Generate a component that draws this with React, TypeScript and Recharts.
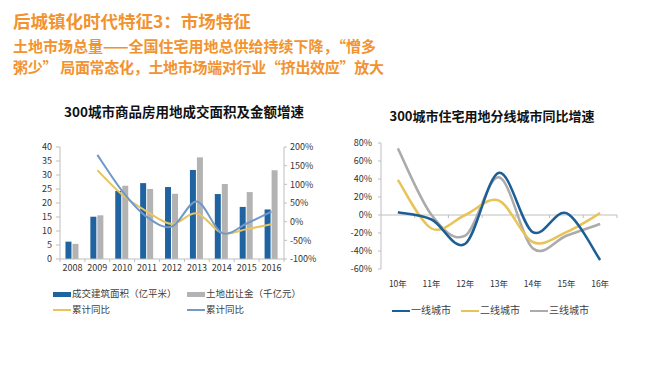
import {
  ComposedChart,
  Bar,
  Line,
  XAxis,
  YAxis,
  ReferenceLine,
} from "recharts";

// left chart: 300 cities land deals
const years = ["2008", "2009", "2010", "2011", "2012", "2013", "2014", "2015", "2016"];
const dealArea = [6.2, 15.1, 24.3, 27.1, 25.7, 31.8, 23.2, 18.6, 17.7];
const landPrice = [5.4, 15.6, 26.2, 25.0, 23.3, 36.3, 26.8, 23.9, 31.7];
const areaYoY = [null, 138, 72, 27, -6, 22, -30, -20, -7];
const priceYoY = [null, 179, 82, 12, -13, 54, -30, -5, 27];
const leftTicks = [0, 5, 10, 15, 20, 25, 30, 35, 40];
const rightTicks = [-100, -50, 0, 50, 100, 150, 200];

// right chart: yoy by city tier
const cityYears = ["10年", "11年", "12年", "13年", "14年", "15年", "16年"];
const tier1 = [3, -5, -32, 47, -19, 2, -50];
const tier2 = [39, -15, 0, 16, -30, -19, 2];
const tier3 = [74, 0, -23, 42, -37, -23, -10];
const tierTicks = [-60, -40, -20, 0, 20, 40, 60, 80];

const FONT = "'Noto Sans CJK SC', 'Noto Sans', sans-serif";
const ORANGE = "#F29330";
const AXIS = "#BFBFBF";

const dealData = years.map((y, i) => ({
  year: y,
  area: dealArea[i],
  price: landPrice[i],
  areaYoY: areaYoY[i],
  priceYoY: priceYoY[i],
}));

const tierData = cityYears.map((y, i) => ({
  year: y,
  t1: tier1[i],
  t2: tier2[i],
  t3: tier3[i],
}));

// Excel style smoothed line (catmull-rom)
function smooth(context: any) {
  let pts: number[][] = [];
  return {
    areaStart() {},
    areaEnd() {},
    lineStart() {
      pts = [];
    },
    point(x: number, y: number) {
      pts.push([+x, +y]);
    },
    lineEnd() {
      if (!pts.length) return;
      context.moveTo(pts[0][0], pts[0][1]);
      for (let i = 0; i < pts.length - 1; i++) {
        const p0 = pts[i - 1] || pts[i];
        const p1 = pts[i];
        const p2 = pts[i + 1];
        const p3 = pts[i + 2] || p2;
        context.bezierCurveTo(
          p1[0] + (p2[0] - p0[0]) / 6,
          p1[1] + (p2[1] - p0[1]) / 6,
          p2[0] - (p3[0] - p1[0]) / 6,
          p2[1] - (p3[1] - p1[1]) / 6,
          p2[0],
          p2[1]
        );
      }
    },
  };
}

const YearTick = (props: any) => {
  const { x, y, payload, width, index } = props;
  const band = width / years.length;
  const axisY = y - 6;
  return (
    <g>
      <line x1={x + band / 2} x2={x + band / 2} y1={axisY} y2={axisY + 3} stroke={AXIS} />
      {index === 0 && (
        <line x1={x - band / 2} x2={x - band / 2} y1={axisY} y2={axisY + 3} stroke={AXIS} />
      )}
      <text x={x} y={y} dy="0.71em" textAnchor="middle" fontSize={9} fill="#333" fontFamily={FONT}>
        {payload.value}
      </text>
    </g>
  );
};

const ZeroAxis = (p: any) => {
  const step = (p.x2 - p.x1) / cityYears.length;
  return (
    <g>
      <line x1={p.x1} x2={p.x2} y1={p.y1} y2={p.y2} stroke={AXIS} strokeWidth={1} />
      {cityYears.map((_, i) => (
        <line
          key={i}
          x1={p.x1 + step * (i + 1)}
          x2={p.x1 + step * (i + 1)}
          y1={p.y1}
          y2={p.y1 + 3}
          stroke={AXIS}
        />
      ))}
    </g>
  );
};

const tickStyle = { fontSize: 9, fill: "#333", fontFamily: FONT };

function Swatch({ color, h }: { color: string; h: number }) {
  return (
    <span
      style={{
        display: "inline-block",
        width: 18,
        height: h,
        background: color,
        verticalAlign: "middle",
        marginRight: 1,
      }}
    />
  );
}

const legendText = { fontSize: 9.5, color: "#404040", fontFamily: FONT, lineHeight: "12px" };

export default function App() {
  return (
    <div
      style={{
        position: "absolute",
        left: 0,
        top: 0,
        width: 650,
        height: 365,
        background: "#fff",
        fontFamily: FONT,
        overflow: "hidden",
      }}
    >
      <div style={{ position: "absolute", left: 13, top: 10, fontSize: 17.5, fontWeight: 700, color: ORANGE, lineHeight: "22px" }}>
        后城镇化时代特征3：市场特征
      </div>
      <div style={{ position: "absolute", left: 13, top: 35, fontSize: 15, fontWeight: 700, color: ORANGE, lineHeight: "21px" }}>
        土地市场总量——全国住宅用地总供给持续下降，“憎多
        <br />
        <span style={{ letterSpacing: -0.3 }}>粥少” 局面常态化，土地市场端对行业“挤出效应”放大</span>
      </div>

      <div style={{ position: "absolute", left: 6, width: 356, top: 101, textAlign: "center", fontSize: 13.5, fontWeight: 700, color: "#111" }}>
        300城市商品房用地成交面积及金额增速
      </div>
      <div style={{ position: "absolute", left: 342, width: 300, top: 106, textAlign: "center", fontSize: 13, fontWeight: 700, color: "#111" }}>
        300城市住宅用地分线城市同比增速
      </div>

      <div style={{ position: "absolute", left: 0, top: 140 }}>
        <ComposedChart
          width={324}
          height={140}
          data={dealData}
          margin={{ top: 7, right: 0, left: 0, bottom: 0 }}
          barGap={1}
          barCategoryGap="22%"
        >
          <XAxis
            dataKey="year"
            interval={0}
            height={21}
            stroke={AXIS}
            tickLine={false}
            tickSize={3}
            tickMargin={3}
            tick={<YearTick />}
          />
          <YAxis
            yAxisId="left"
            width={60}
            domain={[0, 40]}
            ticks={leftTicks}
            interval={0}
            stroke={AXIS}
            tickSize={4}
            tickMargin={4}
            tick={tickStyle}
          />
          <YAxis
            yAxisId="right"
            orientation="right"
            width={40}
            domain={[-100, 200]}
            ticks={rightTicks}
            interval={0}
            stroke={AXIS}
            tickSize={3}
            tickMargin={3}
            tick={tickStyle}
            tickFormatter={(v) => `${v}%`}
          />
          <Bar yAxisId="left" dataKey="area" fill="#1F63A0" isAnimationActive={false} />
          <Bar yAxisId="left" dataKey="price" fill="#B3B3B3" isAnimationActive={false} />
          <Line
            yAxisId="right"
            dataKey="areaYoY"
            type={smooth as any}
            stroke="#E6C45F"
            strokeWidth={2}
            dot={false}
            isAnimationActive={false}
          />
          <Line
            yAxisId="right"
            dataKey="priceYoY"
            type={smooth as any}
            stroke="#7098C9"
            strokeWidth={2}
            dot={false}
            isAnimationActive={false}
          />
        </ComposedChart>
      </div>

      <div style={{ position: "absolute", left: 53, top: 287, ...legendText }}>
        <Swatch color="#1F63A0" h={5} />成交建筑面积（亿平米）
      </div>
      <div style={{ position: "absolute", left: 187, top: 287, ...legendText }}>
        <Swatch color="#B3B3B3" h={5} />土地出让金（千亿元）
      </div>
      <div style={{ position: "absolute", left: 53, top: 303, ...legendText }}>
        <Swatch color="#E6C45F" h={2} />累计同比
      </div>
      <div style={{ position: "absolute", left: 187, top: 303, ...legendText }}>
        <Swatch color="#7098C9" h={2} />累计同比
      </div>

      <div style={{ position: "absolute", left: 330, top: 130 }}>
        <ComposedChart
          width={300}
          height={164}
          data={tierData}
          margin={{ top: 13, right: 13, left: 0, bottom: 0 }}
        >
          <XAxis
            dataKey="year"
            scale="band"
            interval={0}
            height={25}
            axisLine={false}
            tickLine={false}
            tickSize={6}
            tickMargin={6}
            tick={{ fontSize: 8.5, fill: "#333", fontFamily: FONT }}
          />
          <YAxis
            width={51}
            domain={[-60, 80]}
            ticks={tierTicks}
            interval={0}
            stroke={AXIS}
            tickSize={3}
            tickMargin={6}
            tick={tickStyle}
            tickFormatter={(v) => `${v}%`}
          />
          <ReferenceLine y={0} shape={ZeroAxis} />
          <Line dataKey="t3" type={smooth as any} stroke="#ABABAB" strokeWidth={2.5} dot={false} isAnimationActive={false} />
          <Line dataKey="t2" type={smooth as any} stroke="#E8C458" strokeWidth={2.5} dot={false} isAnimationActive={false} />
          <Line dataKey="t1" type={smooth as any} stroke="#1C5E96" strokeWidth={2.5} dot={false} isAnimationActive={false} />
        </ComposedChart>
      </div>

      <div style={{ position: "absolute", left: 392, top: 304, display: "flex", gap: 10, ...legendText, fontSize: 10 }}>
        <span><Swatch color="#1C5E96" h={2} />一线城市</span>
        <span><Swatch color="#E8C458" h={2} />二线城市</span>
        <span><Swatch color="#ABABAB" h={2} />三线城市</span>
      </div>
    </div>
  );
}
